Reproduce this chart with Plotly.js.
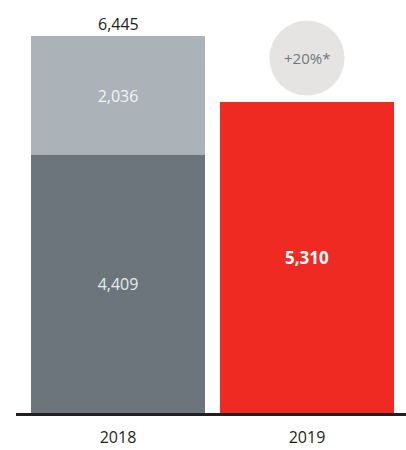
<!DOCTYPE html>
<html><head><meta charset="utf-8">
<script src="https://cdn.plot.ly/plotly-3.0.1.min.js"></script>
<style>html,body{margin:0;padding:0;background:#fff}#c{width:406px;height:450px}</style>
</head><body><div id="c"></div>
<script>
const years = ['2018', '2019'];
const baseValues = [4409, null];
const addValues = [2036, null];
const values2019 = [null, 5310];
const totals = [6445, 5310];
const changeLabel = '+20%*';

const fmt = v => v == null ? '' : v.toLocaleString('en-US');
const font = '"Open Sans", "Noto Sans", sans-serif';

const traces = [
  {type:'bar', x:years, y:baseValues, marker:{color:'#6b757b'},
   text:baseValues.map(fmt), textposition:'inside', insidetextanchor:'middle',
   textfont:{color:'#e8eaeb', size:16, family:font}, hoverinfo:'none'},
  {type:'bar', x:years, y:addValues, marker:{color:'#abb2b8'},
   text:addValues.map(fmt), textposition:'inside', insidetextanchor:'middle',
   textfont:{color:'#f4f5f6', size:16, family:font}, hoverinfo:'none'},
  {type:'bar', x:years, y:values2019, marker:{color:'#ef2a22'},
   text:values2019.map(fmt), textposition:'inside', insidetextanchor:'middle',
   textfont:{color:'#ffffff', size:17, family:font, weight:'bold'}, hoverinfo:'none'}
];

const layout = {
  width:406, height:450, barmode:'stack', bargap:0.079,
  margin:{l:16, r:0, t:20, b:37},
  paper_bgcolor:'#fff', plot_bgcolor:'#fff', showlegend:false,
  font:{family:font, color:'#231f20'},
  xaxis:{type:'category', range:[-0.5397, 1.5238], showline:true, linecolor:'#231f20', linewidth:2.5,
         ticks:'', showgrid:false, tickfont:{size:16, color:'#231f20', family:font}, ticklabelstandoff:8, fixedrange:true},
  yaxis:{range:[0, 6718], visible:false, showgrid:false, fixedrange:true},
  annotations:[
    {x:0, y:totals[0], xref:'x', yref:'y', text:fmt(totals[0]), showarrow:false,
     xanchor:'center', yanchor:'bottom', yshift:-1, font:{size:16, color:'#231f20', family:font}},
    {x:1, y:0.903, xref:'x', yref:'paper', text:changeLabel, showarrow:false,
     xanchor:'center', yanchor:'middle', font:{size:15, color:'#6f787e', family:font}}
  ],
  shapes:[
    {type:'circle', xref:'x', yref:'paper', xsizemode:'pixel', ysizemode:'pixel',
     xanchor:1, yanchor:0.903, x0:-37.5, x1:37.5, y0:-37.5, y1:37.5,
     fillcolor:'#e5e4e2', line:{width:0}, layer:'below'}
  ]
};
Plotly.newPlot('c', traces, layout, {displayModeBar:false, staticPlot:true});
</script></body></html>
